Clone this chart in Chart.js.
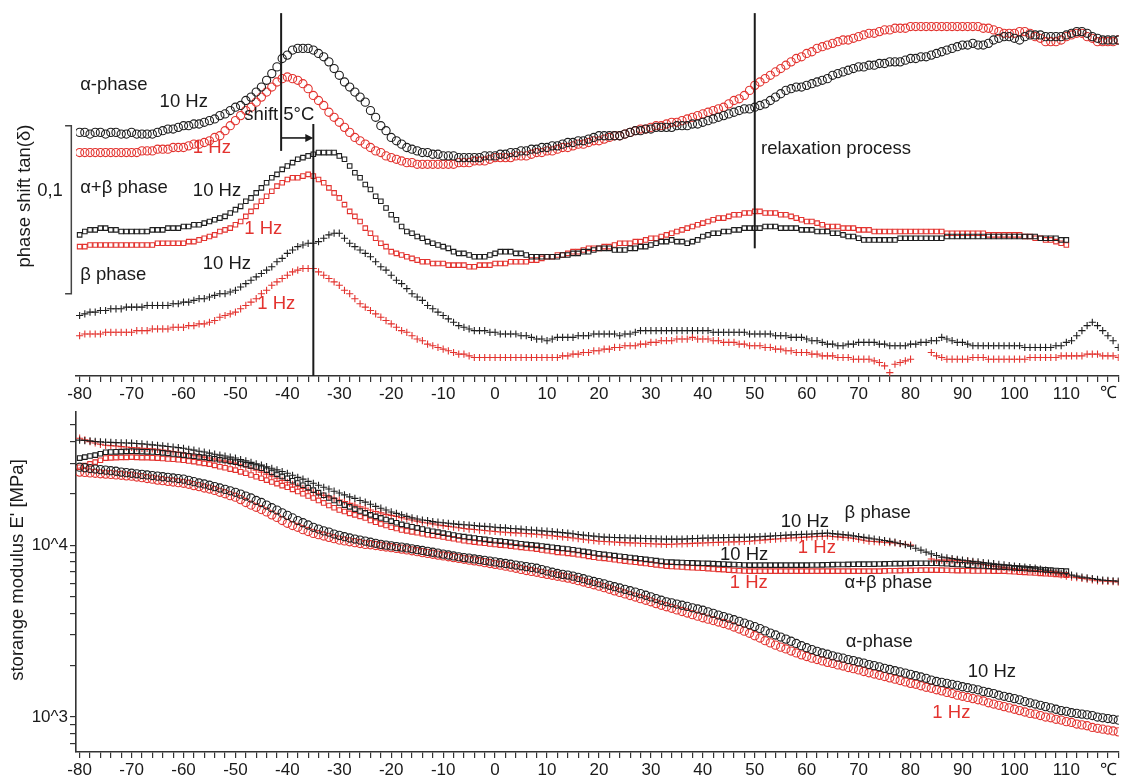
<!DOCTYPE html>
<html><head><meta charset="utf-8">
<script src="https://cdn.jsdelivr.net/npm/chart.js@4.4.1/dist/chart.umd.min.js"></script>
<style>
html,body{margin:0;padding:0;background:#fff;}
#wrap{position:relative;width:1124px;height:778px;overflow:hidden;}
#c1{position:absolute;left:0;top:0;}
#c2{position:absolute;left:0;top:400px;}
</style></head><body>
<div id="wrap"><canvas id="c1" width="1124" height="400"></canvas><canvas id="c2" width="1124" height="378"></canvas></div>
<script>
// ---------- DATA ----------
// temperature grid: -80 °C upward in 1 °C steps
const T_START = -80;
const T_STEP = 1;

// Top panel: tan(delta) in 1e-3 units (curves vertically offset as in the figure)
const tanAlpha10 = [145,145,144,145,145,144,145,145,144,144,145,144,144,144,
144,145,146,147,147,148,149,149,150,150,
151,152,153,155,156,158,160,161,164,166,
169,172,176,180,184,189,191,194,195,195,
195,194,192,190,187,183,179,175,172,169,
166,163,158,154,149,146,142,140,138,136,
135,134,133,133,132,132,131,131,131,130,
130,130,130,130,131,131,131,132,132,133,
133,134,134,135,135,136,136,137,137,138,
139,139,140,140,141,142,143,143,143,143,
143,144,145,146,146,147,147,148,148,148,
148,149,149,149,150,150,151,152,153,154,
155,156,157,158,159,159,160,161,162,164,
166,168,170,171,172,172,173,174,175,176,
177,179,180,181,182,183,184,184,185,185,
186,186,187,187,187,188,189,189,190,190,
191,192,193,194,195,196,197,197,198,197,
197,198,200,201,202,202,201,200,202,203,
203,203,202,202,202,202,203,204,205,205,
204,202,201,200,200,200,200];
const tanAlpha1 = [133,133,133,133,133,133,133,133,133,133,
133,133,134,134,134,135,135,135,136,136,
136,137,138,138,139,140,142,143,146,149,
152,155,158,160,163,166,169,172,175,177,
178,177,176,174,171,167,164,161,157,154,
151,148,145,142,140,138,136,134,133,131,
130,129,128,127,127,126,126,126,126,126,
126,126,126,127,127,127,128,128,128,129,
130,130,130,130,131,131,131,132,133,133,
134,134,135,136,136,137,138,138,139,140,
140,141,142,143,143,144,145,146,147,147,
148,149,149,150,151,151,152,153,154,155,
156,157,158,159,160,162,164,165,167,170,
173,175,177,179,181,183,185,187,189,190,
192,193,195,196,197,198,199,200,200,201,
202,203,204,204,205,206,206,207,207,207,
208,208,208,208,208,208,208,208,208,208,
208,208,208,208,207,207,206,205,204,204,
204,205,205,204,202,201,199,199,199,200,
202,203,204,204,202,201,199,199,199,199,
200];
const tanAB10 = [84,86,87,87,88,88,87,87,86,86,
86,86,86,86,87,87,87,88,88,88,
89,89,90,90,91,92,93,94,95,97,
99,101,104,106,109,112,115,118,120,123,
125,127,129,130,131,132,133,133,133,133,
131,129,125,121,118,114,111,107,104,100,
96,93,89,86,85,83,82,80,79,78,
77,76,74,73,73,72,71,71,71,72,
73,74,74,74,73,73,72,71,71,71,
71,71,71,72,72,73,73,74,74,75,
76,76,76,75,75,75,76,76,77,77,
78,79,80,80,81,80,80,79,80,81,
83,84,85,85,86,86,87,87,88,88,
88,88,89,89,89,88,88,88,88,87,
87,87,86,86,86,85,85,84,83,83,
82,81,81,81,81,81,81,81,82,82,
82,82,82,82,82,82,82,83,83,83,
83,83,83,83,83,83,83,83,83,83,
83,83,83,83,83,82,82,82,82,81,
81];
const tanAB1 = [77,77,78,78,78,78,78,78,78,78,
78,78,78,78,78,79,79,79,79,79,
79,80,80,81,82,83,84,86,87,88,
90,92,95,98,101,104,107,110,113,115,
117,118,118,119,120,119,117,115,112,109,
106,102,98,95,92,88,85,82,79,77,
74,73,72,71,70,69,68,68,67,67,
67,66,66,66,66,65,65,66,66,66,
67,67,67,68,68,68,68,69,69,70,
71,71,72,72,73,74,74,75,76,76,
76,77,77,78,79,79,79,80,80,81,
82,82,83,84,85,86,87,88,89,90,
91,92,93,94,94,95,96,96,97,97,
98,98,97,97,97,96,96,95,94,93,
92,92,91,90,89,89,89,88,88,88,
87,87,87,86,86,86,86,86,86,86,
86,86,86,86,86,86,86,85,85,85,
85,85,85,85,85,84,84,84,84,84,
84,84,83,83,82,82,81,81,80,79,
78];
const tanBeta10 = [36,37,38,38,39,39,40,40,40,41,
41,41,41,42,42,42,42,42,43,43,
44,44,45,46,46,47,48,49,49,50,
51,53,55,57,59,61,63,65,68,70,
73,75,77,78,79,79,80,82,84,85,
85,82,79,77,75,73,71,68,65,63,
60,57,55,52,49,47,45,42,40,38,
36,34,32,30,29,28,27,27,27,26,
26,25,25,25,25,24,24,23,22,22,
21,22,23,23,23,23,24,24,24,25,
25,25,25,25,24,25,25,26,27,27,
27,27,27,27,27,27,27,27,27,27,
27,27,26,26,26,26,26,26,26,25,
25,25,25,25,24,24,24,23,23,23,
22,21,21,20,19,19,18,18,19,19,
20,20,20,20,19,19,18,18,18,18,
19,19,20,20,21,21,23,22,21,20,
20,19,18,18,18,18,18,18,18,18,
18,18,17,17,17,17,17,17,18,18,
20,21,24,27,30,32,30,27,24,21,
17];
const tanBeta1 = [24,25,25,25,25,26,26,26,26,26,
26,27,27,27,28,28,28,28,29,29,
29,30,30,31,31,32,33,35,36,37,
38,40,42,44,46,49,51,54,56,58,
60,62,63,64,64,64,62,60,58,56,
54,51,49,46,43,41,39,37,35,33,
31,29,27,26,24,22,21,19,18,17,
16,15,14,13,13,12,11,11,11,11,
11,11,11,11,11,11,11,11,11,11,
11,11,11,12,12,13,13,14,14,15,
15,16,16,17,17,18,18,18,19,19,
20,20,21,21,21,22,22,22,23,22,
22,22,21,21,20,20,20,19,19,18,
18,18,17,17,16,16,15,15,14,14,
14,13,13,12,12,12,11,11,11,10,
10,10,10,9,8,6,2,7,8,9,
10,null,null,null,14,12,11,10,10,10,
10,10,11,11,11,10,10,10,10,10,
10,10,10,11,11,11,11,11,11,12,
12,12,12,12,13,13,13,12,12,12,
11];

// Bottom panel: storage modulus E' in MPa
const eBeta10 = [40800,40600,40400,40100,39900,39700,39600,39500,39400,39300,
39200,39000,38800,38600,38300,38100,37800,37500,37200,36900,
36600,36100,35700,35200,34800,34300,33800,33400,33000,32500,
32100,31500,30900,30300,29700,29200,28600,28000,27400,26800,
26200,25500,24800,24200,23500,22900,22300,21700,21200,20600,
20100,19600,19100,18700,18200,17800,17300,16800,16400,16000,
15600,15300,15000,14700,14400,14200,14000,13900,13700,13600,
13500,13400,13300,13200,13150,13100,13000,12900,12850,12800,
12700,12650,12600,12500,12450,12400,12300,12250,12200,12100,
12050,11980,11900,11820,11740,11640,11530,11430,11350,11280,
11200,11130,11110,11080,11060,11030,11000,10980,10960,10930,
10910,10890,10860,10840,10840,10840,10840,10870,10910,10940,
10980,11000,11020,11040,11060,11070,11090,11100,11120,11130,
11170,11200,11240,11280,11330,11380,11430,11470,11510,11550,
11580,11620,11660,11700,11740,11670,11590,11510,11430,11320,
11210,11100,10980,10860,10750,10630,10520,10400,10220,10050,
9870,9600,9350,9105,8900,8700,8516,8430,8350,8260,
8180,8110,8050,7990,7920,7860,7800,7730,7670,7610,
7550,7500,7450,7400,7350,7250,7160,7060,6970,6875,
6780,6690,6600,6517,6450,6390,6320,6260,6230,6200,
6176];
const eBeta1 = [41900,41000,40000,39300,38600,38100,37900,37700,37400,37200,
37000,36800,36600,36500,36300,36100,35700,35400,35000,34700,
34300,33900,33400,33000,32500,32100,31700,31200,30800,30400,
30000,29300,28600,27900,27300,26600,25900,25200,24500,23800,
23200,22600,22000,21400,20800,20300,19900,19500,19100,18700,
18300,17900,17500,17100,16700,16400,16000,15700,15400,15100,
14900,14700,14450,14200,14000,13800,13600,13450,13300,13100,
12980,12860,12740,12620,12500,12400,12320,12240,12160,12080,
12000,11930,11880,11830,11780,11730,11680,11630,11580,11490,
11410,11330,11250,11170,11100,11000,10900,10810,10720,10630,
10540,10500,10460,10420,10380,10340,10310,10280,10250,10220,
10190,10160,10130,10100,10120,10150,10180,10210,10240,10270,
10300,10330,10350,10380,10400,10420,10450,10470,10500,10540,
10600,10670,10730,10800,10850,10900,10950,11000,11050,11100,
11140,11180,11220,11260,11300,11230,11170,11100,11040,10960,
10820,10680,10540,10490,10440,10390,10340,10300,10200,10100,
10000,null,null,null,8300,8180,8180,8180,8180,8130,
8100,8070,7950,7830,7720,7620,7550,7480,7420,7360,
7300,7250,7200,7150,7100,7040,6980,6920,6870,6720,
6600,6520,6470,6410,6350,6280,6200,6180,6160,6130,
6100];
const eAB10 = [32100,32500,33000,33400,34000,34700,34800,34900,35000,35100,
35200,35100,35000,34900,34800,34700,34400,34200,33900,33700,
33400,33100,32900,32600,32400,32100,31800,31400,31100,30700,
30400,29900,29400,28900,28500,28000,27300,26500,25800,25100,
24500,23700,23000,22300,21600,20900,20200,19500,18800,18200,
17600,17100,16700,16200,15800,15400,15000,14700,14400,14100,
13800,13500,13200,13000,12800,12600,12400,12200,12050,11900,
11750,11600,11450,11300,11200,11100,11000,10900,10800,10700,
10600,10550,10460,10370,10280,10190,10100,10030,9970,9880,
9800,9720,9640,9560,9490,9400,9300,9200,9100,9000,
8900,8830,8760,8690,8620,8550,8470,8400,8330,8260,
8190,8120,8050,7980,7960,7940,7920,7900,7880,7860,
7850,7830,7810,7780,7760,7730,7710,7690,7670,7650,
7650,7650,7650,7650,7650,7650,7650,7650,7650,7650,
7650,7660,7670,7680,7690,7700,7710,7720,7730,7740,
7750,7750,7750,7760,7770,7780,7790,7800,7810,7820,
7830,7840,7850,7850,7850,7850,7820,7790,7760,7720,
7690,7650,7620,7590,7560,7530,7500,7470,7450,7420,
7380,7350,7320,7280,7250,7220,7180,7150,7120,7090,
7060];
const eAB1 = [28400,29000,29700,30400,31200,32100,32200,32300,32400,32400,
32500,32400,32300,32300,32200,32100,31900,31700,31600,31400,
31200,30900,30600,30200,29900,29600,29100,28600,28200,27700,
27300,26700,26200,25600,25000,24500,23900,23300,22800,22200,
21700,21100,20500,19900,19300,18800,18200,17600,17000,16500,
16000,15700,15300,15000,14700,14400,13900,13600,13300,13000,
12700,12500,12250,12100,11950,11800,11650,11500,11400,11300,
11150,11000,10900,10750,10600,10500,10420,10330,10250,10160,
10080,10000,9950,9870,9790,9710,9630,9560,9480,9380,
9280,9180,9080,9030,8960,8900,8800,8700,8600,8500,
8420,8380,8300,8220,8140,8070,8000,7960,7890,7820,
7750,7680,7610,7550,7520,7490,7460,7420,7390,7360,
7340,7300,7270,7230,7200,7160,7130,7100,7070,7060,
7060,7060,7060,7060,7060,7060,7060,7060,7060,7060,
7060,7060,7060,7060,7060,7060,7060,7060,7060,7060,
7060,7060,7060,7060,7060,7080,7090,7100,7110,7120,
7130,7140,7150,7160,7160,7160,7150,7140,7120,7110,
7100,7090,7080,7080,7070,7070,7060,7060,7060,7030,
7000,6970,6940,6910,6880,6850,6820,6790,6760,6720,
6690];
const eAlpha10 = [28400,28200,27900,27700,27500,27300,27100,26900,26600,26400,
26200,26000,25800,25600,25400,25200,25000,24800,24600,24400,
24200,23800,23400,23000,22700,22300,21900,21500,21100,20700,
20300,19800,19300,18800,18200,17700,17100,16500,16000,15400,
14900,14400,13900,13500,13100,12700,12400,12100,11900,11600,
11400,11200,11000,10850,10700,10550,10400,10250,10100,10000,
9900,9800,9740,9630,9520,9410,9310,9200,9090,8990,
8870,8760,8650,8550,8460,8400,8310,8230,8150,8070,
7990,7900,7820,7740,7660,7580,7500,7420,7340,7210,
7080,6960,6840,6760,6700,6600,6490,6380,6260,6150,
6050,5950,5840,5730,5630,5530,5430,5330,5220,5110,
5000,4890,4780,4680,4620,4540,4470,4400,4320,4250,
4180,4090,4010,3920,3840,3760,3680,3600,3520,3440,
3360,3270,3170,3080,3000,2920,2840,2760,2680,2600,
2530,2470,2410,2360,2320,2270,2230,2200,2160,2130,
2090,2060,2020,1990,1960,1920,1890,1860,1830,1800,
1770,1740,1710,1680,1640,1610,1590,1570,1550,1530,
1500,1480,1460,1440,1410,1390,1370,1340,1320,1300,
1280,1260,1230,1210,1190,1170,1150,1130,1110,1090,
1080,1060,1050,1040,1030,1020,1000,990,980,970,
960];
const eAlpha1 = [26600,26500,26300,26200,26000,25900,25800,25600,25500,25300,
25200,24900,24700,24400,24200,23900,23700,23500,23300,23100,
22900,22600,22200,21900,21500,21200,20800,20300,19900,19400,
19000,18400,17700,17100,16600,16100,15600,15000,14500,13900,
13400,13000,12700,12300,12000,11700,11500,11300,11100,10900,
10700,10580,10460,10340,10220,10100,10050,9950,9850,9750,
9660,9570,9480,9380,9270,9160,9050,8950,8850,8750,
8650,8560,8460,8370,8270,8180,8100,8010,7910,7820,
7730,7650,7540,7440,7330,7220,7120,7030,6950,6850,
6760,6680,6590,6510,6430,6330,6210,6100,5990,5880,
5770,5660,5540,5420,5310,5200,5090,4990,4880,4780,
4680,4570,4470,4380,4290,4200,4110,4030,3940,3860,
3780,3710,3640,3570,3500,3430,3340,3250,3160,3070,
2970,2880,2780,2700,2620,2550,2490,2420,2360,2300,
2250,2200,2160,2120,2080,2050,2010,1980,1940,1910,
1880,1840,1810,1780,1750,1720,1690,1660,1630,1600,
1570,1550,1520,1490,1470,1440,1420,1390,1370,1340,
1320,1300,1280,1260,1240,1210,1190,1170,1150,1130,
1110,1090,1070,1050,1040,1020,1000,990,970,960,
940,930,910,900,890,870,860,850,840,830,
820];

// axis ticks
const X_MIN = -80.7, X_MAX = 120.1;
const X_TICKS = [-80,-78,-76,-74,-72,-70,-68,-66,-64,-62,-60,-58,-56,-54,-52,-50,-48,-46,-44,-42,-40,-38,-36,-34,-32,-30,-28,-26,-24,-22,-20,-18,-16,-14,-12,-10,-8,-6,-4,-2,0,2,4,6,8,10,12,14,16,18,20,22,24,26,28,30,32,34,36,38,40,42,44,46,48,50,52,54,56,58,60,62,64,66,68,70,72,74,76,78,80,82,84,86,88,90,92,94,96,98,100,102,104,106,108,110,112,114,116,118,120];
const X_LABELED = [-80,-70,-60,-50,-40,-30,-20,-10,0,10,20,30,40,50,60,70,80,90,100,110];
const UNIT_LABEL = '℃';
const E_TICKS = [700,800,900,1000,2000,3000,4000,5000,6000,7000,8000,9000,10000,20000,30000,40000,50000];
const E_TICK_LABELS = {1000:'10^3', 10000:'10^4'};

// annotations (data coordinates)
const topNotes = [
  {text:'α-phase', x:-79.9, y:0.173, red:false},
  {text:'10 Hz', x:-64.6, y:0.163, red:false},
  {text:'1 Hz', x:-58.2, y:0.1357, red:true},
  {text:'shift 5°C', x:-48.3, y:0.1554, red:false},
  {text:'α+β phase', x:-79.9, y:0.112, red:false},
  {text:'10 Hz', x:-58.2, y:0.110, red:false},
  {text:'1 Hz', x:-48.3, y:0.0875, red:true},
  {text:'β phase', x:-79.9, y:0.060, red:false},
  {text:'10 Hz', x:-56.3, y:0.0667, red:false},
  {text:'1 Hz', x:-45.8, y:0.0429, red:true},
  {text:'relaxation process', x:51.2, y:0.135, red:false}
];
const topMarkers = [
  {x:-41.2, y0:0.134, y1:0.216},
  {x:-35, y0:0, y1:0.150},
  {x:50, y0:0.076, y1:0.216}
];
const shiftArrow = {x0:-41.2, x1:-35, y:0.1417};
const scaleBar = {x:-81.6, xStub:-82.8, y0:0.049, y1:0.149, label:'0,1', labelX:-85.7, labelY:0.110};
const bottomNotes = [
  {text:'β phase', x:67.3, y:15350, red:false},
  {text:'10 Hz', x:55, y:13600, red:false},
  {text:'1 Hz', x:58.3, y:9610, red:true},
  {text:'10 Hz', x:43.3, y:8750, red:false},
  {text:'1 Hz', x:45.2, y:6010, red:true},
  {text:'α+β phase', x:67.3, y:6010, red:false},
  {text:'α-phase', x:67.5, y:2730, red:false},
  {text:'10 Hz', x:91, y:1830, red:false},
  {text:'1 Hz', x:84.2, y:1055, red:true}
];

// ---------- STYLE ----------
const FONT = "'Liberation Sans', Arial, Helvetica, sans-serif";
const BLACK = '#1e1e1e';
const RED = '#e3332f';
const AXIS = '#333333';

function pts(vals, k) {
  const out = [];
  vals.forEach((v, i) => { if (v !== null) out.push({x: T_START + i * T_STEP, y: v * k}); });
  return out;
}
function ds(vals, k, color, style, r) {
  return {data: pts(vals, k), showLine: false, pointStyle: style, pointRadius: r, pointHoverRadius: r,
    pointBorderColor: color, pointBackgroundColor: 'rgba(0,0,0,0)', pointBorderWidth: 1.1, borderColor: color};
}
function xScale(h) {
  return {
    type: 'linear', min: X_MIN, max: X_MAX,
    afterBuildTicks: s => { s.ticks = X_TICKS.map(v => ({value: v})); },
    afterFit: s => { s.height = h; },
    ticks: {autoSkip: false, maxRotation: 0, minRotation: 0, padding: 2, color: '#1a1a1a',
      font: {family: FONT, size: 17},
      callback: v => X_LABELED.includes(v) ? String(v) : ''},
    grid: {drawOnChartArea: false, drawTicks: true, tickLength: 6, color: AXIS, lineWidth: 1.2},
    border: {display: true, color: AXIS, width: 1.6}
  };
}
function text(ctx, s, x, y, color, size, align) {
  ctx.save();
  ctx.font = size + 'px ' + FONT;
  ctx.fillStyle = color; ctx.textAlign = align || 'left'; ctx.textBaseline = 'middle';
  ctx.fillText(s, x, y);
  ctx.restore();
}
function vtitle(ctx, s, cx, cy, size) {
  ctx.save();
  ctx.translate(cx, cy); ctx.rotate(-Math.PI / 2);
  ctx.font = size + 'px ' + FONT; ctx.fillStyle = '#1a1a1a';
  ctx.textAlign = 'center'; ctx.textBaseline = 'middle';
  ctx.fillText(s, 0, 0);
  ctx.restore();
}

const topPlugin = {
  id: 'topDeco',
  afterDatasetsDraw(chart) {
    const ctx = chart.ctx, xs = chart.scales.x, ys = chart.scales.y;
    const X = v => xs.getPixelForValue(v), Y = v => ys.getPixelForValue(v);
    ctx.save();
    ctx.strokeStyle = '#1a1a1a'; ctx.lineWidth = 2;
    topMarkers.forEach(m => { ctx.beginPath(); ctx.moveTo(X(m.x), Y(m.y0)); ctx.lineTo(X(m.x), Y(m.y1)); ctx.stroke(); });
    // arrow
    const ax0 = X(shiftArrow.x0), ax1 = X(shiftArrow.x1), ay = Y(shiftArrow.y);
    ctx.lineWidth = 1.6;
    ctx.beginPath(); ctx.moveTo(ax0, ay); ctx.lineTo(ax1 - 6, ay); ctx.stroke();
    ctx.fillStyle = '#1a1a1a';
    ctx.beginPath(); ctx.moveTo(ax1, ay); ctx.lineTo(ax1 - 8, ay - 4); ctx.lineTo(ax1 - 8, ay + 4); ctx.closePath(); ctx.fill();
    // scale bar
    ctx.strokeStyle = '#444'; ctx.lineWidth = 1.5;
    ctx.beginPath();
    ctx.moveTo(X(scaleBar.xStub), Y(scaleBar.y1)); ctx.lineTo(X(scaleBar.x), Y(scaleBar.y1));
    ctx.lineTo(X(scaleBar.x), Y(scaleBar.y0)); ctx.lineTo(X(scaleBar.xStub), Y(scaleBar.y0));
    ctx.stroke();
    ctx.restore();
    text(ctx, scaleBar.label, X(scaleBar.labelX), Y(scaleBar.labelY), '#1a1a1a', 18.5, 'center');
    topNotes.forEach(n => text(ctx, n.text, X(n.x), Y(n.y), n.red ? RED : '#1a1a1a', 18.5));
    text(ctx, UNIT_LABEL, X(118.2), xs.top + 17, '#1a1a1a', 17, 'center');
    vtitle(ctx, 'phase shift tan(δ)', 25, 196, 18.5);
  }
};
const bottomPlugin = {
  id: 'bottomDeco',
  afterDatasetsDraw(chart) {
    const ctx = chart.ctx, xs = chart.scales.x, ys = chart.scales.y;
    const X = v => xs.getPixelForValue(v), Y = v => ys.getPixelForValue(v);
    bottomNotes.forEach(n => text(ctx, n.text, X(n.x), Y(n.y), n.red ? RED : '#1a1a1a', 18.5));
    text(ctx, UNIT_LABEL, X(118.2), xs.top + 18, '#1a1a1a', 17, 'center');
    vtitle(ctx, "storange modulus E' [MPa]", 18, 170, 18.5);
  }
};

const common = {
  responsive: false, animation: false, events: [],
  plugins: {legend: {display: false}, tooltip: {enabled: false}}
};

new Chart(document.getElementById('c1'), {
  type: 'scatter',
  data: {datasets: [
    ds(tanAlpha10, 1e-3, BLACK, 'circle', 4.1),
    ds(tanAlpha1, 1e-3, RED, 'circle', 4.1),
    ds(tanAB10, 1e-3, BLACK, 'rect', 3.2),
    ds(tanAB1, 1e-3, RED, 'rect', 3.2),
    ds(tanBeta10, 1e-3, BLACK, 'cross', 3.6),
    ds(tanBeta1, 1e-3, RED, 'cross', 3.6)
  ]},
  options: Object.assign({}, common, {
    layout: {padding: {left: 76, right: 2, top: 8, bottom: 0}},
    scales: {
      x: xScale(24),
      y: {type: 'linear', display: false, min: 0, max: 0.21905}
    }
  }),
  plugins: [topPlugin]
});

new Chart(document.getElementById('c2'), {
  type: 'scatter',
  data: {datasets: [
    ds(eAlpha10, 1, BLACK, 'circle', 4.1),
    ds(eAlpha1, 1, RED, 'circle', 4.1),
    ds(eAB10, 1, BLACK, 'rect', 3.2),
    ds(eAB1, 1, RED, 'rect', 3.2),
    ds(eBeta10, 1, BLACK, 'cross', 3.6),
    ds(eBeta1, 1, RED, 'cross', 3.6)
  ]},
  options: Object.assign({}, common, {
    layout: {padding: {left: 0, right: 2, top: 12, bottom: 0}},
    scales: {
      x: xScale(26),
      y: {
        type: 'logarithmic', min: 626, max: 59340,
        afterBuildTicks: s => { s.ticks = E_TICKS.map(v => ({value: v})); },
        afterFit: s => { s.width = 76; },
        ticks: {autoSkip: false, padding: 2, color: '#1a1a1a', font: {family: FONT, size: 17},
          callback: v => E_TICK_LABELS[v] || ''},
        grid: {drawOnChartArea: false, drawTicks: true, tickLength: 6, color: AXIS, lineWidth: 1.2},
        border: {display: true, color: AXIS, width: 1.6}
      }
    }
  }),
  plugins: [bottomPlugin]
});
</script>
</body></html>
